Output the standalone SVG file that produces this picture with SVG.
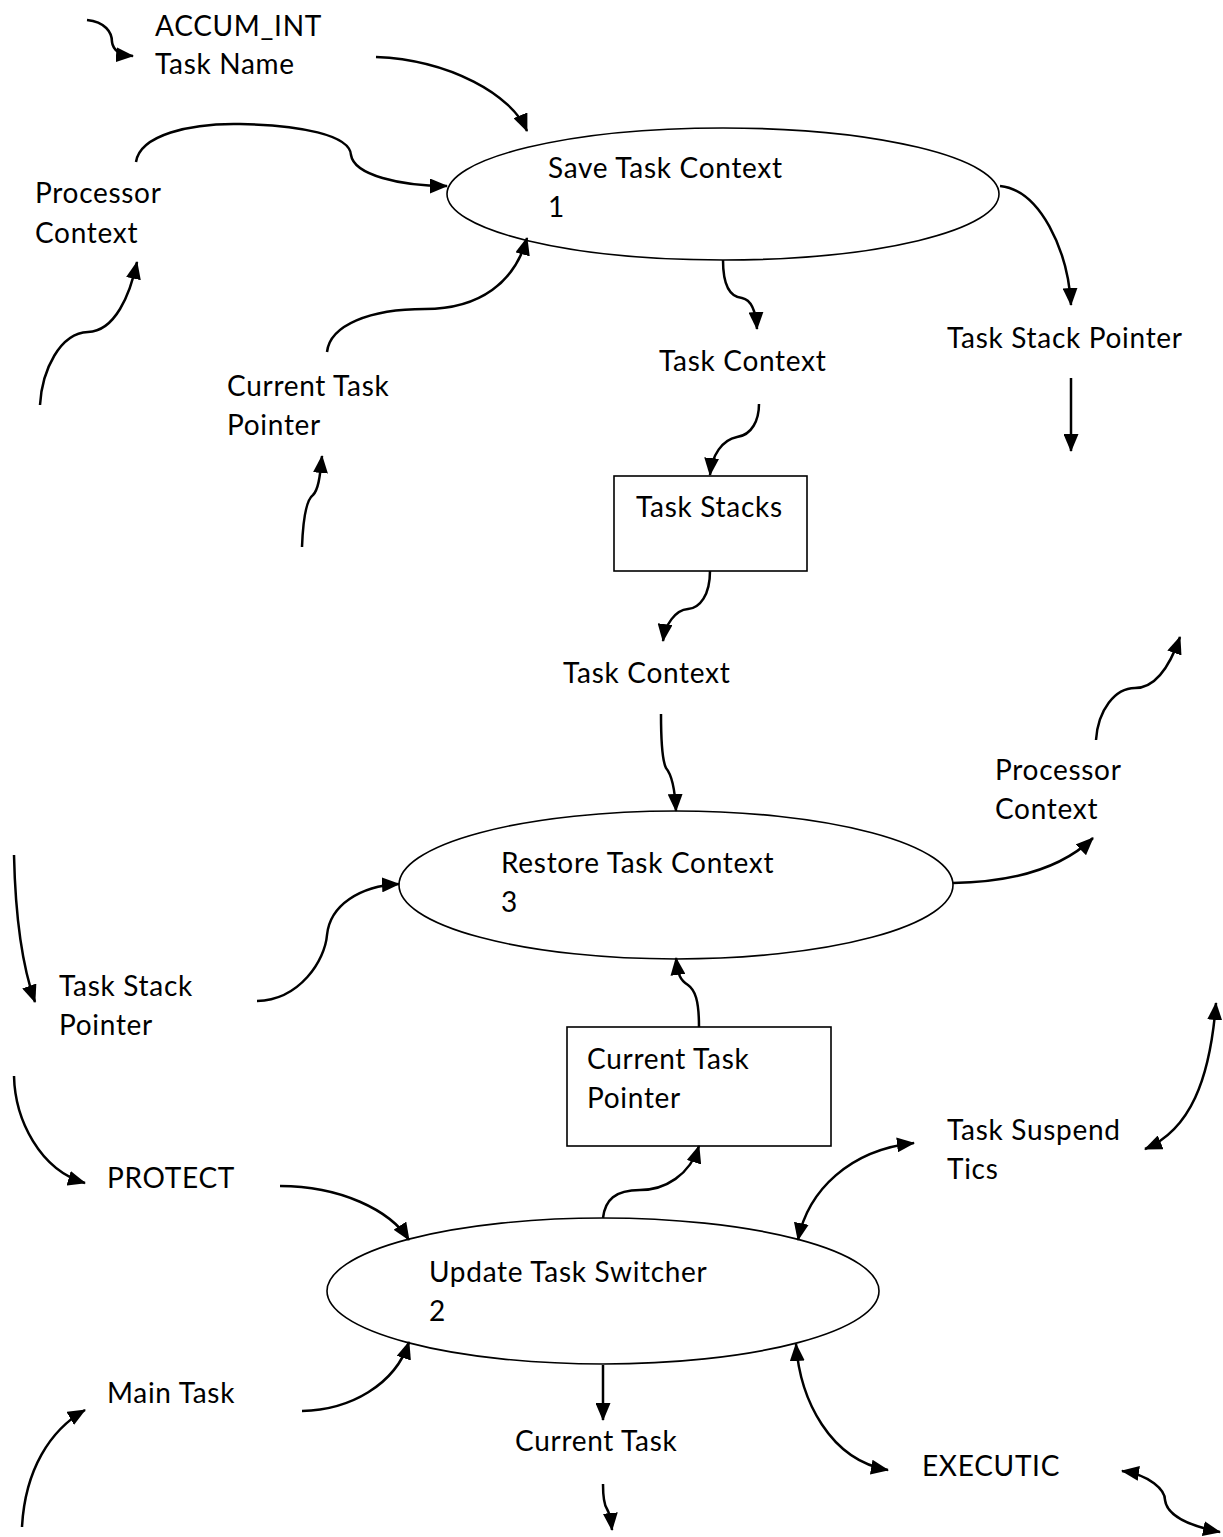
<svg xmlns="http://www.w3.org/2000/svg" width="1223" height="1537" viewBox="0 0 1223 1537">
<style>
text{font-family:Lato,"Liberation Sans",sans-serif;font-size:28px;letter-spacing:0.7px;fill:#000}
.shape{fill:#fff;stroke:#000;stroke-width:1.6}
.c path{fill:none;stroke:#000;stroke-width:2.5;marker-end:url(#ah)}
.c path.d{marker-start:url(#ah)}
</style>
<defs>
<marker id="ah" markerUnits="userSpaceOnUse" markerWidth="18" markerHeight="15" refX="17" refY="7.5" orient="auto-start-reverse" viewBox="0 0 18 15">
<path d="M0,0 L18,7.5 L0,15 z" fill="#000"/>
</marker>
</defs>
<rect width="1223" height="1537" fill="#fff"/>

<g id="p1"><ellipse class="shape" cx="723" cy="194" rx="276" ry="66"/><text x="548" y="178">Save Task Context</text><text x="548" y="217">1</text></g>
<g id="p3"><ellipse class="shape" cx="676" cy="885" rx="277" ry="74"/><text x="501" y="873">Restore Task Context</text><text x="501" y="912">3</text></g>
<g id="p2"><ellipse class="shape" cx="603" cy="1291" rx="276" ry="73"/><text x="429" y="1282">Update Task Switcher</text><text x="429" y="1321">2</text></g>
<g id="stacks"><rect class="shape" x="614" y="476" width="193" height="95"/><text x="636" y="517">Task Stacks</text></g>
<g id="ctp"><rect class="shape" x="567" y="1027" width="264" height="119"/><text x="587" y="1069">Current Task</text><text x="587" y="1108">Pointer</text></g>

<g id="labels">
<text x="155" y="36">ACCUM_INT</text><text x="155" y="74">Task Name</text>
<text x="35" y="203">Processor</text><text x="35" y="243">Context</text>
<text x="227" y="396">Current Task</text><text x="227" y="435">Pointer</text>
<text x="659" y="371">Task Context</text>
<text x="947" y="348">Task Stack Pointer</text>
<text x="563" y="683">Task Context</text>
<text x="995" y="780">Processor</text><text x="995" y="819">Context</text>
<text x="59" y="996">Task Stack</text><text x="59" y="1035">Pointer</text>
<text x="947" y="1140">Task Suspend</text><text x="947" y="1179">Tics</text>
<text x="107" y="1188">PROTECT</text>
<text x="107" y="1403">Main Task</text>
<text x="515" y="1451">Current Task</text>
<text x="922" y="1476">EXECUTIC</text>
</g>

<g id="connectors" class="c">
<path d="M87,20 C105,22 112,32 112,42 C113,50 120,55 133,56"/>
<path d="M376,57 C450,60 512,95 527,131"/>
<path d="M136,162 C140,135 190,123 240,124 C300,125 350,135 351,155 C354,175 400,186 447,186"/>
<path d="M40,405 C42,370 60,333 88,332 C115,331 130,295 137,262"/>
<path d="M327,352 C330,325 370,309 425,309 C480,309 515,282 527,238"/>
<path d="M302,547 C303,520 306,500 313,495 C318,490 320,478 322,456"/>
<path d="M723,260 C723,285 730,297 742,298 C752,300 756,312 757,329"/>
<path d="M1000,186 C1040,190 1068,250 1071,305"/>
<path d="M1071,378 L1071,451"/>
<path d="M759,404 C759,420 752,435 737,437 C722,440 712,455 710,475"/>
<path d="M710,571 C710,595 700,608 688,609 C675,610 665,625 663,641"/>
<path d="M661,714 C661,740 662,760 666,768 C672,775 675,790 676,811"/>
<path d="M1096,740 C1098,710 1115,688 1135,688 C1158,688 1172,660 1180,637"/>
<path d="M953,883 C1010,882 1060,870 1093,838"/>
<path d="M14,855 C15,900 20,960 35,1002"/>
<path d="M257,1001 C300,1000 325,960 327,935 C330,905 360,886 399,884"/>
<path d="M699,1027 C699,1000 695,990 688,985 C680,980 678,975 676,958"/>
<path d="M14,1076 C15,1120 40,1170 85,1183"/>
<path d="M280,1186 C340,1186 390,1210 409,1240"/>
<path d="M603,1218 C605,1200 615,1190 640,1190 C665,1190 690,1175 699,1146"/>
<path class="d" d="M798,1240 C808,1190 850,1150 914,1143"/>
<path class="d" d="M1145,1149 C1190,1130 1210,1080 1216,1003"/>
<path d="M302,1411 C350,1410 395,1385 409,1342"/>
<path d="M22,1527 C25,1470 50,1430 85,1410"/>
<path d="M603,1365 L603,1420"/>
<path d="M603,1484 C603,1500 605,1506 607,1509 C610,1514 611,1520 612,1530"/>
<path class="d" d="M796,1344 C800,1400 830,1460 888,1470"/>
<path class="d" d="M1122,1471 C1150,1475 1165,1490 1165,1500 C1167,1515 1185,1525 1220,1532"/>
</g>
</svg>
